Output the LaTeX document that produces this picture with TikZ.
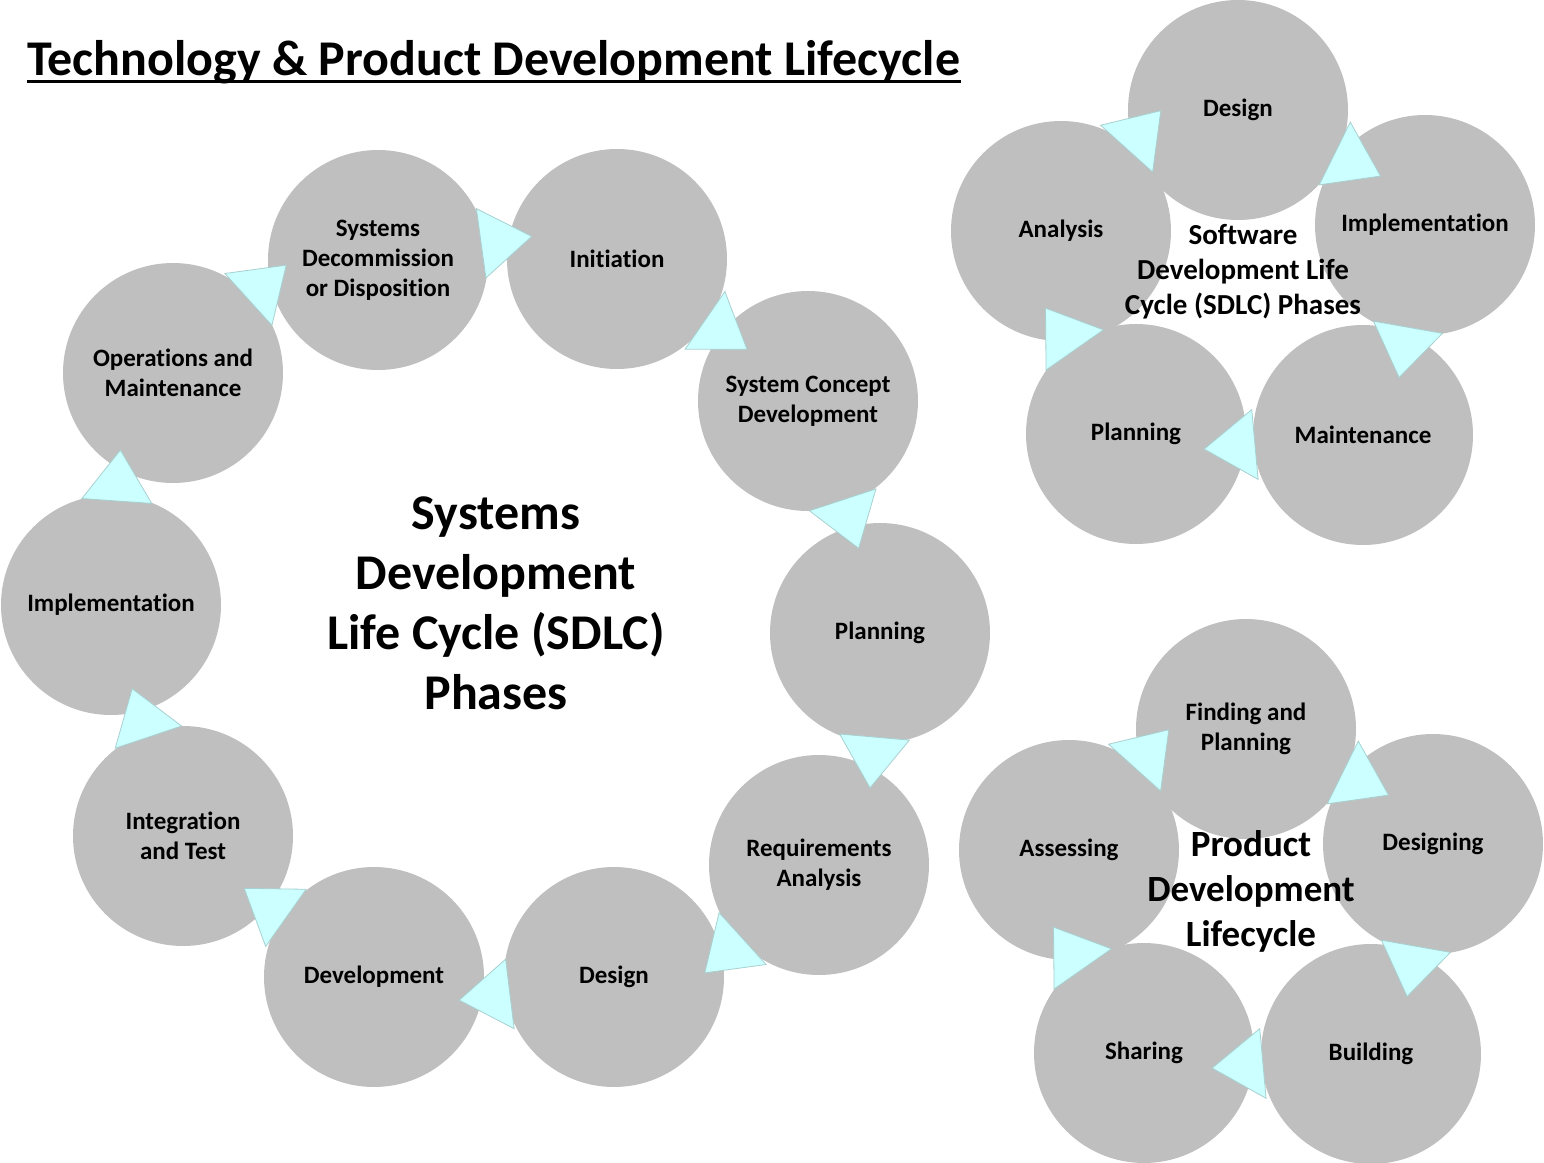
\documentclass[tikz,border=0pt]{standalone}
\usepackage{fontspec}
\setmainfont{Carlito}[Ligatures=NoCommon]
\definecolor{phasegray}{HTML}{BFBFBF}
\definecolor{flowcyan}{HTML}{CCFFFF}
\definecolor{flowedge}{HTML}{A8D0D0}

\begin{document}
\begin{tikzpicture}[
    x=0.5pt, y=-0.5pt,
    phase/.style={circle, fill=phasegray, minimum size=110pt, inner sep=0pt,
        align=center, font=\fontsize{12.5}{15}\selectfont\bfseries},
    hub/.style={align=center, inner sep=0pt},
    flowtri/.pic={\filldraw[fill=flowcyan, draw=flowedge, line width=0.4pt]
        (34,0) -- (-17,35) -- (-17,-35) -- cycle;},
]
\useasboundingbox (0,0) rectangle (1544,1163);

% Title
\node[anchor=base west, inner sep=0pt, font=\fontsize{25}{30}\selectfont\bfseries]
    (title) at (27,75) {Technology \& Product Development Lifecycle};
\draw[line width=1.5pt] ([yshift=-3pt]title.base west) -- ([yshift=-3pt]title.base east);

% Systems development life cycle, ten phases
\node[phase] (init) at (617,259) {Initiation};
\node[phase] (concept) at (808,401) {System Concept\\Development};
\node[phase] (plan) at (880,633) {Planning};
\node[phase] (req) at (819,865) {Requirements\\Analysis};
\node[phase] (design) at (614,977) {Design};
\node[phase] (dev) at (374,977) {Development};
\node[phase] (integ) at (183,836) {Integration\\and Test};
\node[phase] (impl) at (111,605) {Implementation};
\node[phase] (ops) at (173,373) {Operations and\\Maintenance};
\node[phase] (decom) at (378,260) {Systems\\Decommission\\or Disposition};
\node[hub, font=\fontsize{25}{30}\selectfont\bfseries] (sdlc) at (496,603)
    {Systems\\Development\\Life Cycle (SDLC)\\Phases};

% Flow markers, clockwise
\pic[rotate=7.8] at (498,241) {flowtri};     % decom -> init
\pic[rotate=-34.6] at (719,330) {flowtri};   % init -> concept
\pic[rotate=-71.8] at (848,516) {flowtri};   % concept -> plan
\pic[rotate=-95] at (873,754) {flowtri};     % plan -> req
\pic[rotate=-137.8] at (730,950) {flowtri};  % req -> design
\pic[rotate=-173] at (493,996) {flowtri};    % design -> dev
\pic[rotate=144.7] at (272,908) {flowtri};   % dev -> integ
\pic[rotate=108.5] at (143,721) {flowtri};   % integ -> impl
\pic[rotate=86] at (118,484) {flowtri};      % impl -> ops
\pic[rotate=42.2] at (261,288) {flowtri};    % ops -> decom

% Software development life cycle
\node[phase] (sdesign) at (1238,110) {Design};
\node[phase] (simpl) at (1425,225) {Implementation};
\node[phase] (smaint) at (1363,435) {Maintenance};
\node[phase] (splan) at (1136,434) {Planning};
\node[phase] (sanal) at (1061,231) {Analysis};
\node[hub, font=\fontsize{14.5}{17.5}\selectfont\bfseries] (swdlc) at (1243,272)
    {Software\\Development Life\\Cycle (SDLC) Phases};

\pic[rotate=48] at (1138,136) {flowtri};      % sanal -> sdesign
\pic[rotate=-26.3] at (1350,161) {flowtri};   % sdesign -> simpl
\pic[rotate=-100] at (1405,344) {flowtri};    % simpl -> smaint
\pic[rotate=-174.8] at (1238,446) {flowtri};  % smaint -> splan
\pic[rotate=125] at (1065,336) {flowtri};     % splan -> sanal

% Product development lifecycle
\node[phase] (find) at (1246,729) {Finding and\\Planning};
\node[phase] (dsgn) at (1433,844) {Designing};
\node[phase] (build) at (1371,1054) {Building};
\node[phase] (share) at (1144,1053) {Sharing};
\node[phase] (assess) at (1069,850) {Assessing};
\node[hub, font=\fontsize{18.5}{22.5}\selectfont\bfseries] (pdlc) at (1251,891)
    {Product\\Development\\Lifecycle};

\pic[rotate=48] at (1146,755) {flowtri};      % assess -> find
\pic[rotate=-26.3] at (1358,780) {flowtri};   % find -> dsgn
\pic[rotate=-100] at (1413,963) {flowtri};    % dsgn -> build
\pic[rotate=-174.8] at (1246,1065) {flowtri}; % build -> share
\pic[rotate=125] at (1073,955) {flowtri};     % share -> assess
\end{tikzpicture}
\end{document}
